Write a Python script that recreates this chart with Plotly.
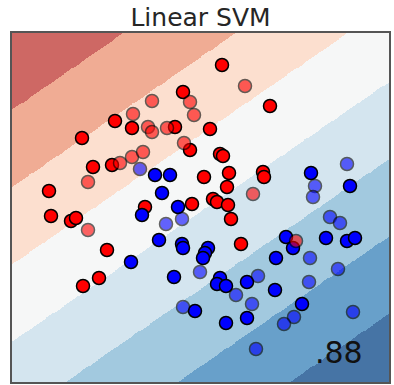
import numpy as np
import plotly.graph_objects as go

# ---- data (feature space units) ----
red_train_x = [-1.70, -1.36, -2.36, -2.14, -1.76, -3.02, 0.44, -0.34, -0.50, 0.20, -0.20, 0.40, 0.46,
               1.26, 1.28, 0.08, 0.58, 0.54, 0.26, 0.34, 0.56, -0.16, -1.10, 1.40, -2.98, -2.58,
               -2.48, -1.86, -2.02, -2.34, 0.62, 0.82]
red_train_y = [1.72, 1.58, 1.38, 0.80, 0.84, 0.32, 2.84, 2.30, 1.60, 1.56, 1.14, 1.06, 1.02,
               0.70, 0.60, 0.60, 0.68, 0.40, 0.16, 0.10, 0.04, 0.06, 0.00, 2.02, -0.18, -0.28,
               -0.22, -0.86, -1.42, -1.58, -0.24, -0.74]

blue_train_x = [-0.90, -0.60, -0.76, -0.44, -1.16, -1.38, -0.82, -0.36, -0.34, 0.16, 0.10, 0.06,
                -0.52, 0.40, 0.34, 0.52, 0.94, -0.10, 0.94, 0.52, 2.22, 3.00, 1.72, 1.86, 2.52,
                2.94, 3.10, 1.52, 1.50, 2.04]
blue_train_y = [0.64, 0.64, 0.28, 0.00, -0.16, -1.10, -0.66, -0.74, -0.82, -0.82, -0.92, -1.02,
                -1.40, -1.42, -1.54, -1.58, -1.50, -2.08, -2.22, -2.32, 0.68, 0.42, -0.60, -0.82,
                -0.62, -0.68, -0.62, -1.02, -1.66, -1.94]

red_test_x = [-1.34, -1.60, -1.36, -2.24, 0.90, -0.96, -0.20, -0.12, -1.04, -0.96, -0.66, -0.32,
              -1.14, 1.06, -2.24, 1.92]
red_test_y = [1.86, 0.88, 1.00, 0.50, 2.42, 2.12, 2.10, 1.84, 1.60, 1.50, 1.58, 1.28,
              1.10, 0.26, -0.46, -0.68]

blue_test_x = [-1.20, -0.68, -0.36, 0.00, 1.16, 0.72, 1.04, -0.34, 1.12, 2.94, 2.30, 2.26, 2.60,
               2.80, 2.20, 2.76, 2.18, 1.88, 1.68, 3.06]
blue_test_y = [0.76, -0.34, -0.24, -1.30, -1.38, -1.76, -1.94, -2.00, -2.84, 0.86, 0.42, 0.20,
               -0.20, -0.32, -1.02, -1.24, -1.50, -2.20, -2.34, -2.10]

# linear decision function and its contour levels
coef = [0.446, -0.647]
intercept = -0.067
level_lo, level_hi = -4, 4
band_colors = ["rgb(206,104,100)", "rgb(240,172,148)", "rgb(252,223,207)", "rgb(246,247,247)",
               "rgb(212,229,239)", "rgb(162,201,223)", "rgb(104,160,202)", "rgb(70,116,165)"]

x_range = [-3.76, 3.78]
y_range = [-3.50, 3.48]
title_text = "Linear SVM"
score_text = ".88"

# ---- decision surface ----
gx = np.linspace(x_range[0], x_range[1], 400)
gy = np.linspace(y_range[0], y_range[1], 370)
XX, YY = np.meshgrid(gx, gy)
Z = coef[0] * XX + coef[1] * YY + intercept
Zb = np.clip(np.floor(Z), level_lo, level_hi - 1)

n = len(band_colors)
cscale = []
for i, c in enumerate(band_colors):
    lo = max(0.0, (i - 0.5) / (n - 1))
    hi = min(1.0, (i + 0.5) / (n - 1))
    cscale.append([lo, c])
    cscale.append([hi, c])

fig = go.Figure()
fig.add_trace(go.Heatmap(x=gx, y=gy, z=Zb, zmin=level_lo, zmax=level_hi - 1,
                         colorscale=cscale, showscale=False, zsmooth=False, hoverinfo="skip"))

def pts(x, y, color, opacity):
    return go.Scatter(x=x, y=y, mode="markers",
                      marker=dict(size=13, color=color, opacity=opacity,
                                  line=dict(color="black", width=1.5)),
                      showlegend=False)

fig.add_trace(pts(red_train_x, red_train_y, "#FF0000", 1.0))
fig.add_trace(pts(blue_train_x, blue_train_y, "#0000FF", 1.0))
fig.add_trace(pts(red_test_x, red_test_y, "#FF0000", 0.6))
fig.add_trace(pts(blue_test_x, blue_test_y, "#0000FF", 0.6))

fig.add_annotation(x=3.30, y=-2.90, xref="x", yref="y", text=score_text, showarrow=False,
                   xanchor="right", yanchor="middle",
                   font=dict(family="DejaVu Sans", size=30, color="#111111"))

fig.update_layout(
    width=394, height=385,
    margin=dict(l=12, r=5, t=33, b=3),
    paper_bgcolor="white", plot_bgcolor="white",
    title=dict(text=title_text, x=0.5, xref="paper", xanchor="center",
               y=1 - 17 / 385, yref="container", yanchor="middle",
               font=dict(family="DejaVu Sans", size=25, color="#262626")),
    xaxis=dict(range=x_range, showgrid=False, zeroline=False, showticklabels=False, ticks="",
               showline=True, mirror=True, linecolor="#555555", linewidth=2),
    yaxis=dict(range=y_range, showgrid=False, zeroline=False, showticklabels=False, ticks="",
               showline=True, mirror=True, linecolor="#555555", linewidth=2),
)

fig.write_html("out.html")
